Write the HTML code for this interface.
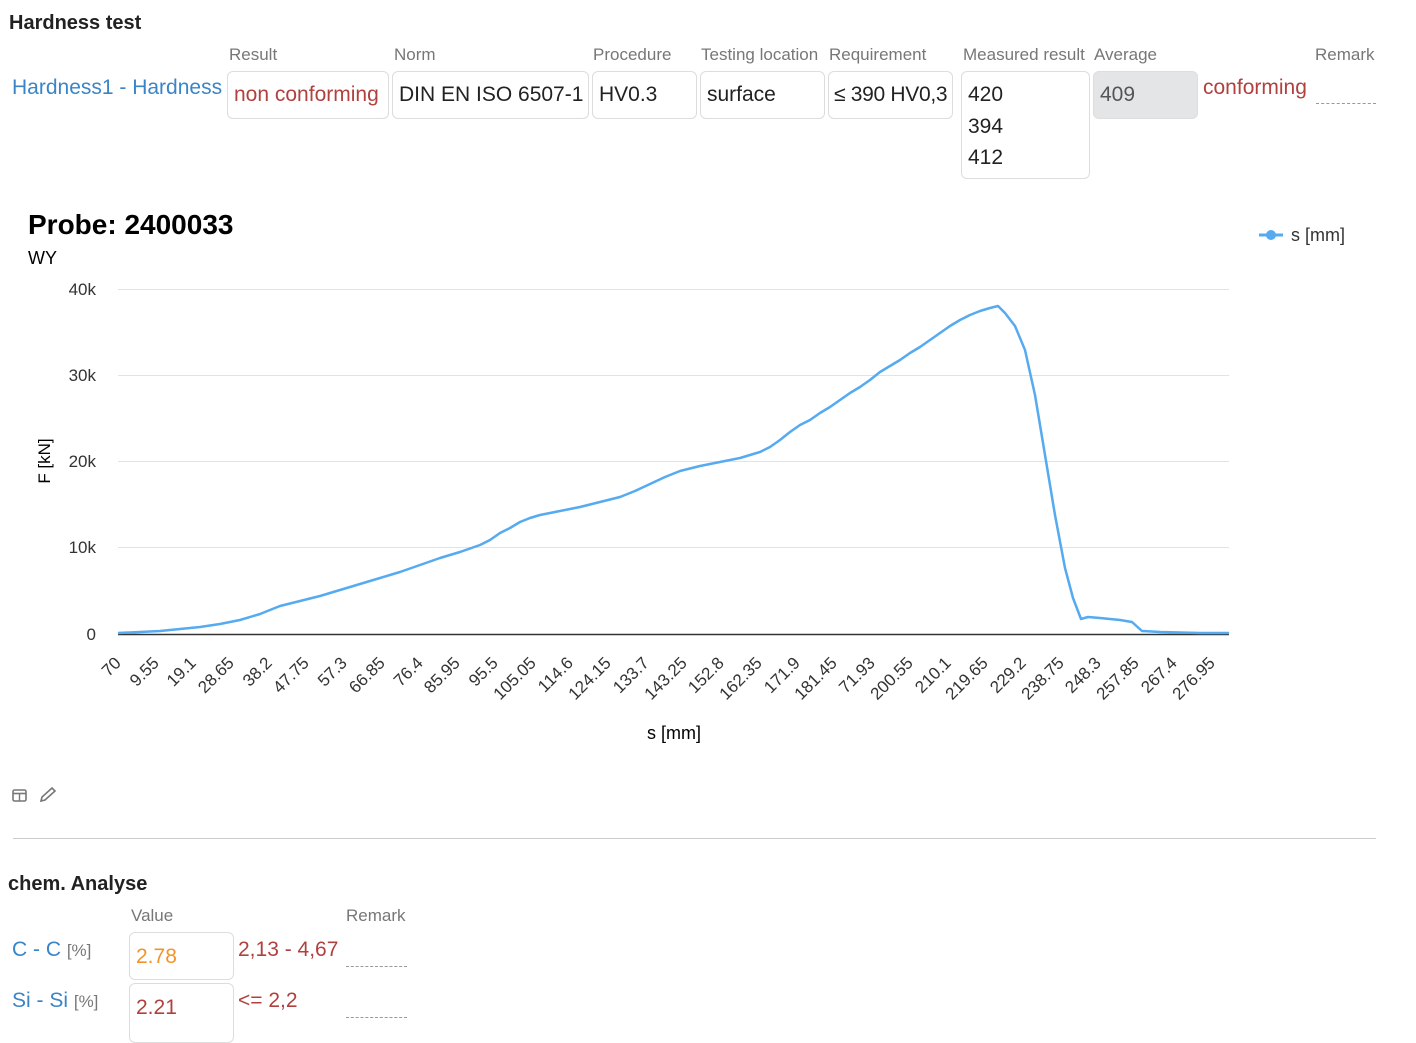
<!DOCTYPE html>
<html><head><meta charset="utf-8"><style>
body{margin:0;width:1416px;height:1027px;background:#fff;font-family:"Liberation Sans",Arial,sans-serif;position:relative;overflow:hidden;color:#222}
.a{position:absolute;white-space:nowrap}
.lbl{font-size:17px;color:#777}
.box{position:absolute;border:1px solid #ddd;border-radius:6px;box-sizing:border-box;font-size:20px;padding:11px 6px;color:#222;white-space:nowrap;overflow:visible}
.blue{color:#3a84c8}.red{color:#b0413e}
.dash{position:absolute;border-top:1px dashed #999;height:0}
</style></head><body>
<div class="a" style="left:9px;top:12px;font-size:20px;font-weight:bold">Hardness test</div>
<div class="a lbl" style="left:229px;top:45px">Result</div>
<div class="a lbl" style="left:394px;top:45px">Norm</div>
<div class="a lbl" style="left:593px;top:45px">Procedure</div>
<div class="a lbl" style="left:701px;top:45px">Testing location</div>
<div class="a lbl" style="left:829px;top:45px">Requirement</div>
<div class="a lbl" style="left:963px;top:45px">Measured result</div>
<div class="a lbl" style="left:1094px;top:45px">Average</div>
<div class="a lbl" style="left:1315px;top:45px">Remark</div>
<div class="a blue" style="left:12px;top:76px;font-size:21px">Hardness1 - Hardness</div>
<div class="box red" style="left:227px;top:71px;width:162px;height:48px;font-size:21px;padding-left:6px">non conforming</div>
<div class="box" style="left:392px;top:71px;width:197px;height:48px;font-size:21px">DIN EN ISO 6507-1</div>
<div class="box" style="left:592px;top:71px;width:105px;height:48px;font-size:21px">HV0.3</div>
<div class="box" style="left:700px;top:71px;width:125px;height:48px;font-size:21px">surface</div>
<div class="box" style="left:828px;top:71px;width:125px;height:48px;font-size:21px;padding-left:5px;letter-spacing:-0.3px">≤ 390 HV0,3</div>
<div class="box" style="left:961px;top:71px;width:129px;height:108px;line-height:31.5px;padding-top:7px;font-size:21px">420<br>394<br>412</div>
<div class="box" style="left:1093px;top:71px;width:105px;height:48px;background:#e4e5e7;color:#555;font-size:21px">409</div>
<div class="a red" style="left:1203px;top:76px;font-size:21px">conforming</div>
<div class="dash" style="left:1316px;top:103px;width:60px"></div>

<svg class="a" style="left:0;top:190px" width="1416" height="570" viewBox="0 190 1416 570">
<text x="28" y="234" font-size="28" font-weight="bold" fill="#000">Probe: 2400033</text>
<text x="28" y="264" font-size="18" fill="#000">WY</text>
<g stroke="#e3e3e3" stroke-width="1">
<line x1="118" y1="289.5" x2="1229" y2="289.5"/><line x1="118" y1="375.5" x2="1229" y2="375.5"/><line x1="118" y1="461.5" x2="1229" y2="461.5"/><line x1="118" y1="547.5" x2="1229" y2="547.5"/></g>
<line x1="118" y1="634.5" x2="1229" y2="634.5" stroke="#333" stroke-width="1.5"/>
<g font-size="17" fill="#333" text-anchor="end">
<text x="96" y="295">40k</text><text x="96" y="381">30k</text><text x="96" y="467">20k</text><text x="96" y="553">10k</text><text x="96" y="640">0</text></g>
<text transform="translate(50,461) rotate(-90)" font-size="17" text-anchor="middle" fill="#000">F [kN]</text>
<text x="674" y="739" font-size="18" text-anchor="middle" fill="#000">s [mm]</text>
<line x1="1259" y1="235" x2="1283" y2="235" stroke="#55aaf0" stroke-width="3"/><circle cx="1271" cy="235" r="5" fill="#55aaf0"/>
<text x="1291" y="241" font-size="18" fill="#333">s [mm]</text>
<polyline fill="none" stroke="#55aaf0" stroke-width="2.5" stroke-linejoin="round" points="118,633 140,632 160,631 180,629 200,627 220,624 240,620 260,614 280,606 300,601 320,596 340,590 360,584 380,578 400,572 420,565 440,558 460,552 480,545 490,540 500,533 510,528 520,522 530,518 540,515 560,511 580,507 600,502 620,497 635,491 650,484 665,477 680,471 700,466 720,462 740,458 760,452 770,447 780,440 790,432 800,425 810,420 820,413 830,407 840,400 850,393 860,387 870,380 880,372 890,366 900,360 910,353 920,347 930,340 940,333 950,326 960,320 970,315 980,311 990,308 998,306 1005,313 1015,326 1025,350 1035,395 1045,455 1055,515 1065,568 1073,598 1081,619 1088,617 1100,618 1120,620 1132,622 1142,631 1160,632 1200,633 1229,633"/>
<g font-size="17" fill="#333" text-anchor="end">
<text transform="translate(122,664) rotate(-45)">70</text>
<text transform="translate(160,664) rotate(-45)">9.55</text>
<text transform="translate(197,664) rotate(-45)">19.1</text>
<text transform="translate(235,664) rotate(-45)">28.65</text>
<text transform="translate(273,664) rotate(-45)">38.2</text>
<text transform="translate(310,664) rotate(-45)">47.75</text>
<text transform="translate(348,664) rotate(-45)">57.3</text>
<text transform="translate(386,664) rotate(-45)">66.85</text>
<text transform="translate(424,664) rotate(-45)">76.4</text>
<text transform="translate(461,664) rotate(-45)">85.95</text>
<text transform="translate(499,664) rotate(-45)">95.5</text>
<text transform="translate(537,664) rotate(-45)">105.05</text>
<text transform="translate(574,664) rotate(-45)">114.6</text>
<text transform="translate(612,664) rotate(-45)">124.15</text>
<text transform="translate(650,664) rotate(-45)">133.7</text>
<text transform="translate(688,664) rotate(-45)">143.25</text>
<text transform="translate(725,664) rotate(-45)">152.8</text>
<text transform="translate(763,664) rotate(-45)">162.35</text>
<text transform="translate(801,664) rotate(-45)">171.9</text>
<text transform="translate(838,664) rotate(-45)">181.45</text>
<text transform="translate(876,664) rotate(-45)">71.93</text>
<text transform="translate(914,664) rotate(-45)">200.55</text>
<text transform="translate(952,664) rotate(-45)">210.1</text>
<text transform="translate(989,664) rotate(-45)">219.65</text>
<text transform="translate(1027,664) rotate(-45)">229.2</text>
<text transform="translate(1065,664) rotate(-45)">238.75</text>
<text transform="translate(1102,664) rotate(-45)">248.3</text>
<text transform="translate(1140,664) rotate(-45)">257.85</text>
<text transform="translate(1178,664) rotate(-45)">267.4</text>
<text transform="translate(1216,664) rotate(-45)">276.95</text>
</g>
</svg>

<svg class="a" style="left:12px;top:787px" width="50" height="18">
<rect x="1" y="3" width="13" height="11" rx="1.5" fill="none" stroke="#777" stroke-width="1.6"/><line x1="1" y1="6.5" x2="14" y2="6.5" stroke="#777" stroke-width="1.6"/><line x1="7.5" y1="6" x2="7.5" y2="14" stroke="#777" stroke-width="1.4"/>
<path d="M29 14 L30 10 L40 1 L43 4 L33 13 Z" fill="none" stroke="#777" stroke-width="1.6"/>
</svg>
<div class="a" style="left:13px;top:838px;width:1363px;border-top:1px solid #ccc"></div>

<div class="a" style="left:8px;top:873px;font-size:20px;font-weight:bold">chem. Analyse</div>
<div class="a lbl" style="left:131px;top:906px">Value</div>
<div class="a lbl" style="left:346px;top:906px">Remark</div>
<div class="a blue" style="left:12px;top:938px;font-size:21px">C - C <span style="color:#777;font-size:17px">[%]</span></div>
<div class="box" style="left:129px;top:932px;width:105px;height:48px;color:#f0952c;padding-top:12px;font-size:21px">2.78</div>
<div class="a red" style="left:238px;top:938px;font-size:21px">2,13 - 4,67</div>
<div class="dash" style="left:346px;top:966px;width:61px"></div>
<div class="a blue" style="left:12px;top:989px;font-size:21px">Si - Si <span style="color:#777;font-size:17px">[%]</span></div>
<div class="box red" style="left:129px;top:983px;width:105px;height:60px;padding-top:12px;font-size:21px">2.21</div>
<div class="a red" style="left:238px;top:989px;font-size:21px">&lt;= 2,2</div>
<div class="dash" style="left:346px;top:1017px;width:61px"></div>
</body></html>
